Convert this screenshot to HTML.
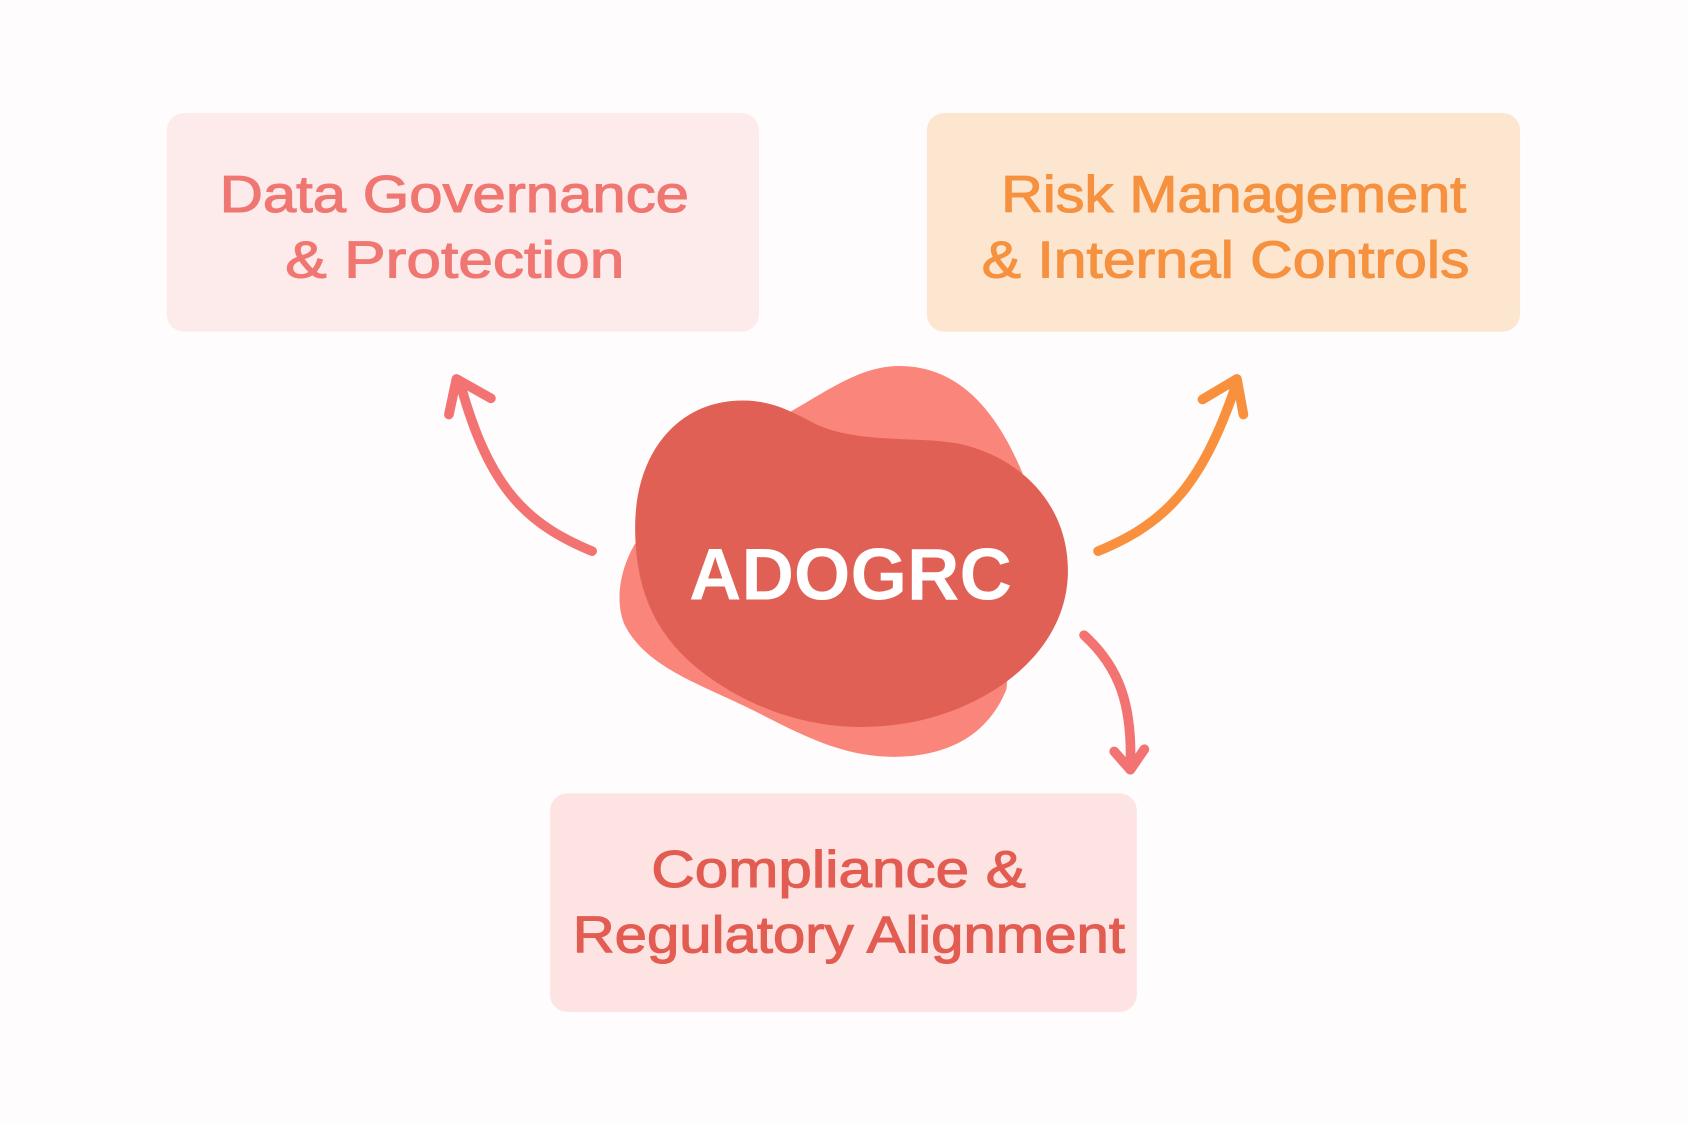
<!DOCTYPE html>
<html><head><meta charset="utf-8"><style>
html,body{margin:0;padding:0;background:#fefcfc;}
svg{display:block;}
text{font-family:"Liberation Sans",sans-serif;}
</style></head><body>
<svg width="1688" height="1125" viewBox="0 0 1568 1045" preserveAspectRatio="none" xmlns="http://www.w3.org/2000/svg">
<rect width="1568" height="1045" fill="#fefcfc"/>
<rect x="155" y="105" width="550" height="203" rx="16" fill="#fdeaea"/>
<rect x="861" y="105" width="551" height="203" rx="16" fill="#fde6d0"/>
<rect x="511" y="737" width="545" height="203" rx="16" fill="#fde3e1"/>
<g font-size="48" text-anchor="start" stroke-width="1">
<text x="204" y="197" fill="#f07672" stroke="#f07672" textLength="436" lengthAdjust="spacingAndGlyphs">Data Governance</text>
<text x="265" y="258" fill="#f07672" stroke="#f07672" textLength="315" lengthAdjust="spacingAndGlyphs">&amp; Protection</text>
<text x="930" y="197" fill="#f5913f" stroke="#f5913f" textLength="432" lengthAdjust="spacingAndGlyphs">Risk Management</text>
<text x="912" y="258" fill="#f5913f" stroke="#f5913f" textLength="453" lengthAdjust="spacingAndGlyphs">&amp; Internal Controls</text>
<text x="605" y="824" fill="#e25c52" stroke="#e25c52" textLength="348" lengthAdjust="spacingAndGlyphs">Compliance &amp;</text>
<text x="532" y="885" fill="#e25c52" stroke="#e25c52" textLength="513" lengthAdjust="spacingAndGlyphs">Regulatory Alignment</text>
</g>
<path d="M735 382 C770 362 800 340 835 340 C890 340 925 380 950 440 L935 640 C915 690 870 703 830 703 C780 703 740 680 700 660 C650 635 600 620 580 580 C570 555 578 525 590 505 Z" fill="#fa857a"/>
<path d="M690 372 C720 372 740 385 760 395 C800 412 850 405 890 412 C950 425 992 470 992 530 C992 600 930 650 860 668 C790 685 720 672 660 630 C610 595 590 550 590 490 C590 420 630 372 690 372 Z" fill="#e06055"/>
<text x="640" y="557" fill="#ffffff" font-weight="bold" font-size="68" textLength="300" lengthAdjust="spacingAndGlyphs">ADOGRC</text>
<g fill="none" stroke-width="9" stroke-linecap="round" stroke-linejoin="round">
<path d="M550 512 C490 487 455 455 428 358" stroke="#f27371"/>
<path d="M417 385 L424 352 L456 370" stroke="#f27371"/>
<path d="M1020 512 C1080 487 1115 455 1148 358" stroke="#f8903e"/>
<path d="M1117 371 L1149 352 L1155 385" stroke="#f8903e"/>
<path d="M1007 590 C1040 620 1052 655 1050 712" stroke="#f27371"/>
<path d="M1035 698 L1050 715 L1063 696" stroke="#f27371"/>
</g>
</svg>
</body></html>
